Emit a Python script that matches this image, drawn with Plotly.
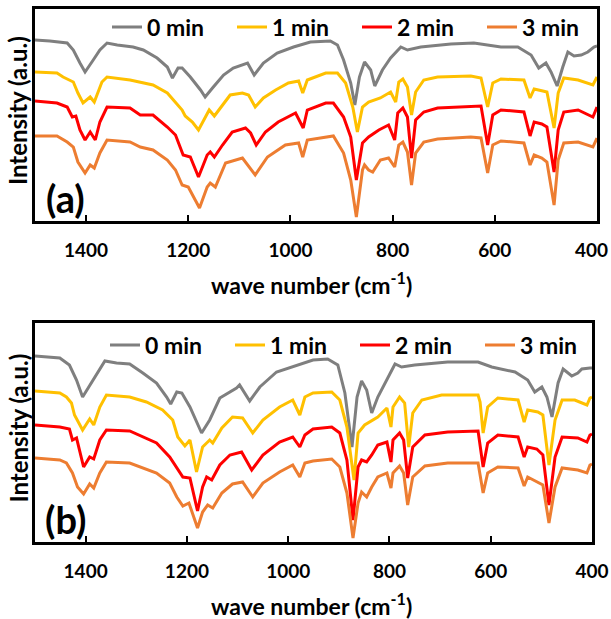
import plotly.graph_objects as go

# FTIR spectra, intensity in a.u.
SERIES = ["0 min", "1 min", "2 min", "3 min"]
COLORS = ["#7f7f7f", "#ffc000", "#ff0000", "#ed7d31"]
TICKS = [1400, 1200, 1000, 800, 600, 400]

# ---- panel (a) ----
A0_WN = [1500, 1471, 1437, 1425, 1412, 1402, 1386, 1373, 1359, 1339, 1308, 1288, 1261, 1241, 1231, 1220, 1212, 1196,
         1176, 1167, 1151, 1131, 1112, 1084, 1071, 1053, 1026, 994, 961, 931, 922, 908, 896, 882, 874, 865, 855, 843,
         835, 820, 804, 784, 771, 745, 712, 686, 641, 588, 555, 529, 514, 500, 490, 478, 467, 457, 445, 431, 418, 406, 400]
A0_I = [181, 180, 178, 171, 158, 149, 161, 171, 178, 176, 174, 171, 163, 154, 143, 153, 153, 144,
        131, 124, 134, 146, 153, 158, 146, 158, 168, 174, 179, 180, 180, 176, 161, 138, 116, 144, 159, 151,
        135, 151, 163, 174, 171, 174, 176, 177, 178, 174, 174, 166, 153, 158, 149, 135, 154, 169, 165, 166, 169, 174, 175]

A1_WN = [1500, 1457, 1445, 1425, 1416, 1406, 1392, 1384, 1369, 1359, 1314, 1294, 1269, 1241, 1225, 1212, 1206, 1192,
         1180, 1167, 1159, 1149, 1133, 1118, 1094, 1082, 1069, 1053, 1029, 1004, 984, 976, 967, 931, 908, 892, 878, 869,
         859, 847, 824, 804, 794, 788, 780, 771, 763, 755, 739, 712, 647, 627, 614, 604, 588, 543, 531, 523, 506, 498,
         484, 476, 465, 437, 408, 400]
A1_I = [149, 148, 144, 139, 128, 118, 124, 119, 139, 144, 141, 139, 136, 128, 119, 111, 105, 99,
        91, 103, 111, 105, 116, 126, 128, 126, 114, 123, 131, 138, 140, 128, 141, 148, 148, 138, 114, 89,
        114, 119, 123, 129, 119, 139, 142, 134, 106, 129, 141, 144, 145, 143, 114, 138, 142, 141, 123, 132, 130, 129,
        93, 128, 143, 141, 136, 144]

A2_WN = [1500, 1457, 1437, 1427, 1420, 1412, 1402, 1392, 1382, 1373, 1359, 1314, 1294, 1269, 1241, 1225, 1210, 1196,
         1180, 1163, 1157, 1149, 1133, 1114, 1088, 1078, 1067, 1049, 1024, 990, 975, 967, 931, 916, 896, 882, 871, 859,
         847, 827, 808, 796, 790, 780, 771, 763, 755, 739, 712, 647, 627, 614, 604, 588, 543, 531, 523, 508, 498, 484,
         476, 465, 437, 408, 400]
A2_I = [120, 118, 114, 104, 105, 91, 81, 89, 81, 99, 114, 113, 106, 106, 94, 86, 66, 64,
        44, 66, 69, 64, 76, 89, 93, 88, 76, 89, 99, 108, 93, 111, 118, 118, 104, 84, 41, 78,
        84, 91, 96, 81, 108, 113, 104, 63, 101, 109, 113, 115, 115, 76, 106, 111, 109, 85, 99, 97, 94, 49,
        91, 109, 111, 104, 114]

A3_WN = [1500, 1457, 1437, 1425, 1416, 1402, 1392, 1384, 1373, 1359, 1314, 1294, 1269, 1241, 1225, 1212, 1200, 1178,
         1163, 1157, 1147, 1127, 1094, 1069, 1045, 1010, 984, 976, 967, 931, 916, 896, 882, 871, 859, 855, 847, 839,
         824, 808, 796, 788, 780, 771, 763, 755, 739, 712, 647, 627, 614, 604, 588, 543, 531, 523, 508, 498, 484, 476,
         465, 437, 408, 400]
A3_I = [85, 85, 79, 74, 59, 48, 56, 53, 68, 81, 79, 74, 71, 61, 51, 36, 34, 13,
        34, 38, 34, 58, 63, 46, 64, 76, 78, 64, 81, 84, 85, 68, 41, 4, 51, 56, 51, 49,
        61, 63, 54, 76, 79, 69, 36, 68, 79, 82, 84, 83, 48, 76, 80, 78, 56, 66, 63, 59, 16, 61,
        78, 79, 74, 83]

# ---- panel (b) ----
B0_WN = [1500, 1451, 1432, 1418, 1406, 1386, 1362, 1339, 1313, 1287, 1260, 1240, 1232, 1220, 1210, 1194, 1171, 1155,
         1135, 1102, 1096, 1076, 1056, 1023, 983, 951, 922, 902, 888, 874, 864, 855, 845, 835, 823, 805, 789, 776, 750,
         685, 625, 598, 552, 527, 513, 499, 489, 479, 467, 457, 440, 428, 420, 404, 400]
B0_I = [186, 184, 177, 162, 145, 162, 181, 179, 178, 169, 159, 145, 138, 150, 149, 135, 109, 122,
        144, 154, 157, 141, 155, 170, 177, 182, 183, 177, 149, 95, 145, 161, 152, 129, 145, 162, 178, 175, 177,
        180, 180, 175, 170, 162, 150, 155, 145, 125, 159, 173, 166, 169, 173, 174, 174]

B1_WN = [1500, 1451, 1438, 1428, 1422, 1406, 1392, 1384, 1372, 1359, 1313, 1280, 1248, 1228, 1218, 1204, 1194, 1181,
         1169, 1155, 1149, 1131, 1110, 1090, 1070, 1050, 1017, 991, 977, 967, 951, 914, 898, 884, 870, 862, 849, 823,
         805, 797, 793, 780, 770, 762, 754, 736, 697, 625, 621, 615, 606, 586, 546, 534, 527, 507, 497, 485, 473, 459,
         434, 410, 404, 400]
B1_I = [151, 149, 145, 139, 127, 112, 123, 117, 135, 147, 145, 140, 132, 122, 105, 96, 102, 70,
        95, 102, 99, 114, 125, 124, 109, 122, 135, 142, 127, 145, 149, 150, 142, 115, 62, 109, 117, 125,
        134, 115, 135, 145, 139, 95, 129, 142, 147, 147, 140, 109, 135, 144, 142, 120, 132, 130, 127, 77, 122, 142,
        142, 137, 144, 145]

B2_WN = [1500, 1451, 1432, 1426, 1418, 1404, 1392, 1384, 1372, 1359, 1313, 1287, 1260, 1234, 1220, 1208, 1194, 1179,
         1169, 1161, 1151, 1135, 1115, 1092, 1072, 1050, 1017, 991, 977, 967, 951, 914, 898, 884, 872, 862, 855, 845,
         835, 823, 805, 797, 793, 780, 772, 764, 754, 730, 685, 625, 615, 606, 586, 546, 534, 527, 509, 497, 485, 473,
         459, 428, 410, 404, 400]
B2_I = [117, 115, 113, 102, 104, 75, 85, 83, 102, 112, 111, 105, 99, 85, 74, 65, 64, 31,
        55, 65, 62, 77, 87, 90, 72, 87, 100, 105, 95, 107, 113, 115, 109, 82, 22, 75, 82, 80,
        87, 97, 100, 80, 102, 109, 102, 64, 95, 107, 110, 111, 75, 99, 107, 105, 85, 95, 93, 87, 37, 85,
        105, 104, 100, 107, 108]

B3_WN = [1500, 1451, 1438, 1426, 1416, 1404, 1392, 1384, 1372, 1359, 1313, 1287, 1260, 1234, 1220, 1208, 1196, 1179,
         1169, 1159, 1149, 1131, 1110, 1090, 1070, 1050, 1017, 991, 977, 967, 951, 914, 898, 884, 872, 862, 855, 845,
         835, 823, 805, 797, 793, 780, 772, 764, 754, 730, 685, 625, 615, 606, 586, 546, 534, 527, 509, 497, 485, 473,
         459, 428, 410, 404, 400]
B3_I = [84, 82, 79, 69, 55, 48, 58, 54, 69, 80, 79, 74, 69, 59, 45, 36, 39, 14,
        30, 37, 34, 49, 58, 60, 45, 59, 70, 77, 65, 79, 81, 83, 75, 49, 4, 39, 50, 45,
        55, 65, 69, 54, 69, 76, 69, 37, 65, 76, 79, 79, 49, 69, 75, 74, 56, 65, 60, 57, 19, 55,
        74, 72, 69, 77, 78]

PANELS = [
    ("a", [(A0_WN, A0_I), (A1_WN, A1_I), (A2_WN, A2_I), (A3_WN, A3_I)], 212),
    ("b", [(B0_WN, B0_I), (B1_WN, B1_I), (B2_WN, B2_I), (B3_WN, B3_I)], 219),
]

W, H = 611, 619
FONT = "Lato"
TICKFONT = dict(family=FONT, size=19, color="black", weight="bold")

fig = go.Figure()

# panel boxes in pixels: (left, right, top, bottom)
boxes = {"a": (35, 597, 9, 221), "b": (35, 592, 323, 542)}


def px(x, y):
    # pixel position -> paper coordinates
    return x / W, 1 - y / H


for k, (tag, curves, ymax) in enumerate(PANELS):
    xa = "x" if k == 0 else "x2"
    ya = "y" if k == 0 else "y2"
    leg = "legend" if k == 0 else "legend2"
    for name, color, (wn, inten) in zip(SERIES, COLORS, curves):
        fig.add_trace(go.Scatter(x=wn, y=inten, mode="lines", name=name, xaxis=xa, yaxis=ya, legend=leg,
                                 line=dict(color=color, width=3)))
    left, right, top, bottom = boxes[tag]
    labels = [str(t) for t in TICKS]
    if tag == "a":
        # the last label sits flush with the page edge; it is drawn as an annotation below
        labels[-1] = ""
    axis_x = dict(domain=[left / W, right / W], range=[1500, 400], tickvals=TICKS, ticktext=labels,
                  ticks="inside", ticklen=6, tickwidth=2, tickcolor="black", automargin=False,
                  showline=True, linecolor="black", linewidth=3, mirror=True, showgrid=False, zeroline=False,
                  tickfont=TICKFONT, ticklabelstandoff=10, anchor=ya)
    axis_y = dict(domain=[1 - bottom / H, 1 - top / H], range=[0, ymax], showticklabels=False, ticks="",
                  automargin=False,
                  showline=True, linecolor="black", linewidth=3, mirror=True, showgrid=False, zeroline=False,
                  anchor=xa)
    if k == 0:
        fig.update_layout(xaxis=axis_x, yaxis=axis_y)
        x0, y0 = px(591, bottom + 28)
        fig.add_annotation(text=str(TICKS[-1]), xref="paper", yref="paper", x=x0, y=y0,
                           xanchor="center", yanchor="middle", showarrow=False, font=TICKFONT)
    else:
        fig.update_layout(xaxis2=axis_x, yaxis2=axis_y)

    # axis titles and panel tag
    x0, y0 = px(311, bottom + 62)
    fig.add_annotation(text="wave number (cm<sup>-1</sup>)", xref="paper", yref="paper", x=x0, y=y0,
                       xanchor="center", yanchor="middle", showarrow=False,
                       font=dict(family=FONT, size=23, color="black", weight="bold"))
    x0, y0 = px(18, (top + bottom) / 2 - 4)
    fig.add_annotation(text="Intensity (a.u.)", xref="paper", yref="paper", x=x0, y=y0, textangle=-90,
                       xanchor="center", yanchor="middle", showarrow=False,
                       font=dict(family=FONT, size=24, color="black", weight="bold"))
    x0, y0 = px(65, bottom - 23)
    fig.add_annotation(text="(" + tag + ")", xref="paper", yref="paper", x=x0, y=y0,
                       xanchor="center", yanchor="middle", showarrow=False,
                       font=dict(family=FONT, size=38, color="black", weight="bold"))

legend_style = dict(orientation="h", xanchor="left", yanchor="middle", bgcolor="rgba(0,0,0,0)",
                    font=dict(family=FONT, size=23, color="black", weight="bold"),
                    entrywidth=80, entrywidthmode="pixels", tracegroupgap=0)
fig.update_layout(
    legend=dict(x=107 / W, y=1 - 27 / H, **legend_style),
    legend2=dict(x=105 / W, y=1 - 345 / H, **legend_style),
    width=W, height=H, margin=dict(l=0, r=0, t=0, b=0),
    paper_bgcolor="white", plot_bgcolor="white",
)

# drop the browser's default body margin so the figure sits at the page corner
fig.write_html("out.html", config={"displayModeBar": False},
               post_script="document.body.style.margin = '0px';")
